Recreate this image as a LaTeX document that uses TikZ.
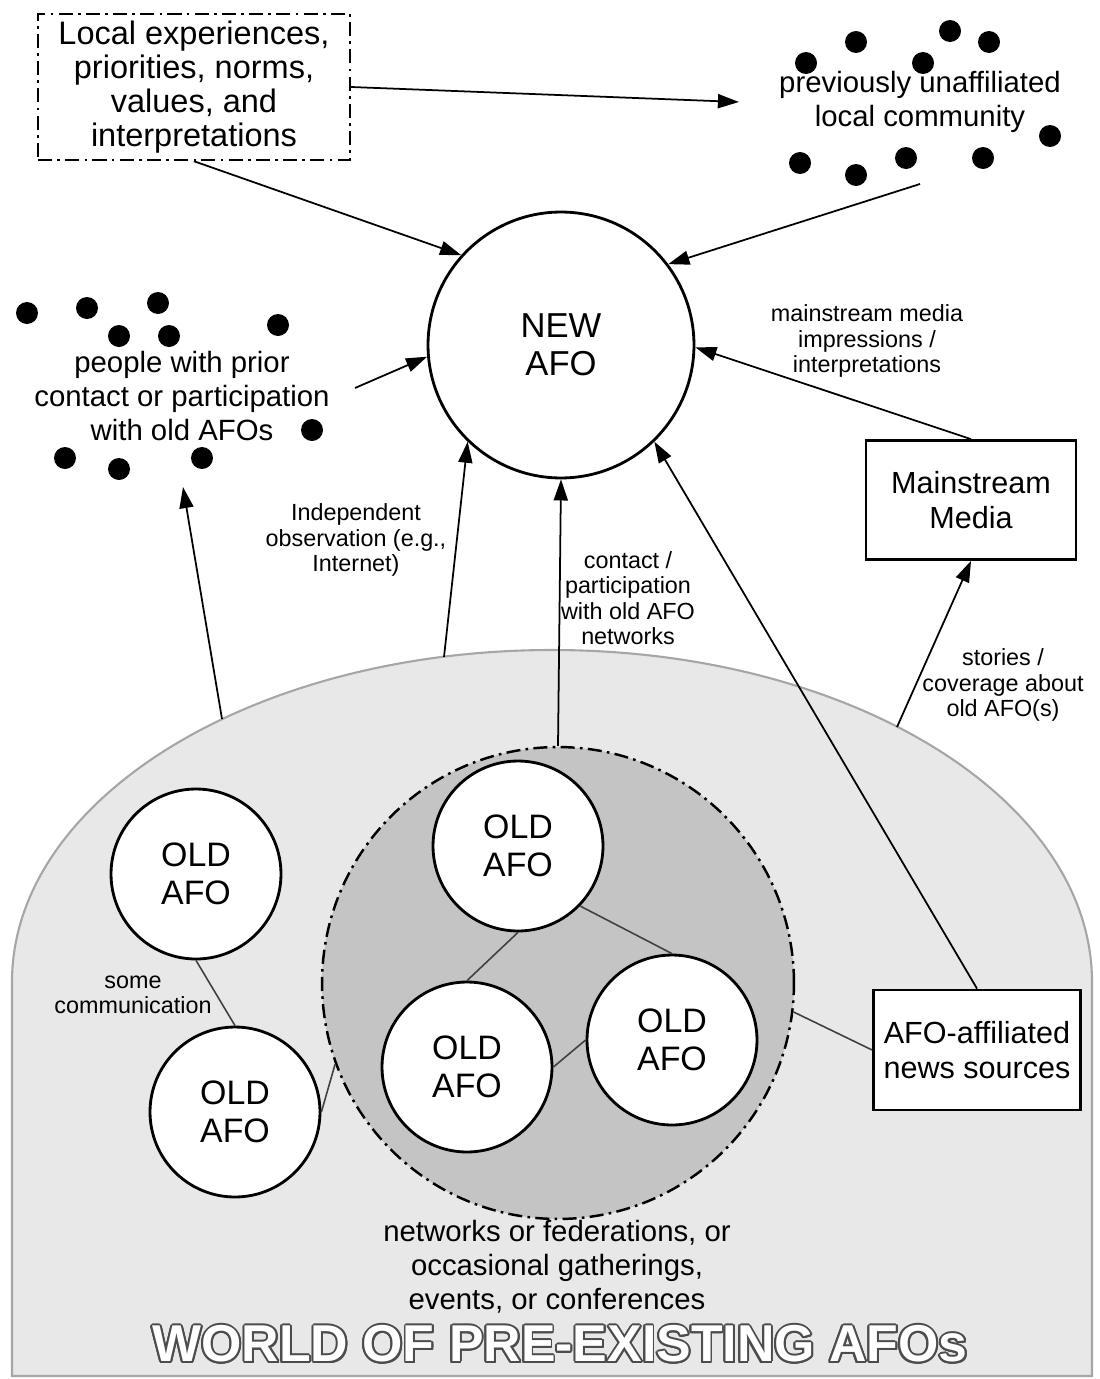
\documentclass[tikz,border=0pt]{standalone}
\usepackage{fontspec}
\setmainfont{Liberation Sans}
\usepackage{contour}
\usetikzlibrary{arrows.meta}
\contourlength{1.1pt}
\definecolor{worldgray}{HTML}{E8E8E8}
\definecolor{netgray}{HTML}{C4C4C4}
\definecolor{rimgray}{HTML}{A6A6A6}
\newcommand{\crowd}[1]{
    \foreach \p in {#1}
        \fill \p circle (11);
}
\tikzset{x=0.02cm, y=-0.02cm, >={Triangle[length=12pt,width=8pt]},
    every node/.append style={align=center, font=\fontsize{16.7}{19.3}\selectfont},
    afo/.style={circle, draw, line width=1.6pt, fill=white, minimum size=3.4cm, inner sep=0pt,
        font=\fontsize{19.3}{21.5}\selectfont},
    plainbox/.style={draw, line width=1.6pt, fill=white, font=\fontsize{17.4}{20.4}\selectfont},
    smalllbl/.style={font=\fontsize{13.3}{14.5}\selectfont},
    link/.style={line width=0.9pt, black!75}}

\begin{document}
\begin{tikzpicture}
                \useasboundingbox (0,0) rectangle (1099,1379);
                \filldraw[fill=worldgray, draw=rimgray, line width=1.2pt]
                    (12,1376) -- (12,982) arc[start angle=180, end angle=360, x radius=540, y radius=332]
                    -- (1092,1376) -- cycle;
                \coordinate (w1) at (222,719);
                \coordinate (w2) at (444,657);
                \coordinate (w3) at (897,727);
                \node[circle, draw, line width=1.4pt, dash pattern=on 8pt off 3pt on 1.5pt off 3pt,
                    fill=netgray, minimum size=9.44cm] (net) at (558,983) {};
                \node[afo] (a) at (196,874) {OLD\\AFO};
                \node[afo] (b) at (235,1112) {OLD\\AFO};
                \node[afo] (c) at (518,846) {OLD\\AFO};
                \node[afo] (d) at (467,1067) {OLD\\AFO};
                \node[afo] (e) at (672,1040) {OLD\\AFO};
                \node[plainbox, minimum width=4.14cm, minimum height=2.4cm] (affil) at (977,1050)
                    {AFO-affiliated\\news sources};
                \node[smalllbl] (somelbl) at (133,995) {some\\communication};
                \node (netlbl) at (557,1267) {networks or federations, or\\occasional gatherings,\\events, or conferences};
                \node[text=white, font=\fontsize{29.5}{31}\selectfont\bfseries] (world) at (560,1345)
                    {\contour{black!70}{WORLD OF PRE-EXISTING AFOs}};
                \draw[link] (a.south) -- (b.north);
                \draw[link] (b.east) -- (net.200);
                \draw[link] (c.south) -- (d.north);
                \draw[link] (c.316) -- (e.north);
                \draw[link] (d.east) -- (e.west);
                \draw[link] (net.353) -- (affil.west);

                \node[draw, line width=1.4pt, dash pattern=on 8pt off 3pt on 1.5pt off 3pt,
                    minimum width=6.24cm, minimum height=2.92cm, font=\fontsize{18.5}{19.5}\selectfont]
                    (local) at (194,87) {Local experiences,\\priorities, norms,\\values, and\\interpretations};
                \node (prev) at (920,102) {previously unaffiliated\\local community};
                \crowd{(856,42),(950,31),(989,42),(806,63),(923,63),(1050,136),(800,163),(856,175),(906,158),(983,158)}
                \coordinate (prevfoot) at (920,184);
                \node[circle, draw, line width=1.6pt, minimum size=5.32cm, font=\fontsize{19.7}{21.5}\selectfont]
                    (new) at (561,345) {NEW\\AFO};
                \node (people) at (182,396) {people with prior\\contact or participation\\with old AFOs};
                \crowd{(27,313),(87,308),(158,303),(119,336),(169,336),(278,325),(312,430),(65,458),(119,469),(202,458)}
                \coordinate (peoplefoot) at (183,487);
                \coordinate (peopleside) at (355,388);
                \node[plainbox, minimum width=4.2cm, minimum height=2.38cm] (media) at (971,500) {Mainstream\\Media};

                \node[smalllbl] (mmlbl) at (867,341) {mainstream media\\impressions /\\interpretations};
                \node[smalllbl] (indlbl) at (356,540) {Independent\\observation (e.g.,\\Internet)};
                \node[smalllbl] (conlbl) at (628,598) {contact /\\participation\\with old AFO\\networks};
                \node[smalllbl] (storlbl) at (1003,685) {stories /\\coverage about\\old AFO(s)};

                \draw[->, line width=1pt] (local.east) -- ([xshift=-0.68cm]prev.west);
                \draw[->, line width=1pt] (local.south) -- (new.138);
                \draw[->, line width=1pt] (prevfoot) -- (new.37);
                \draw[->, line width=1pt] (peopleside) -- (new.185);
                \draw[->, line width=1pt] (media.north) -- (new.359);
                \draw[->, line width=1pt] (w1) -- (peoplefoot);
                \draw[->, line width=1pt] (w2) -- (new.226);
                \draw[->, line width=1pt] (net.north) -- (new.south);
                \draw[->, line width=1pt] (affil.north) -- (new.314);
                \draw[->, line width=1pt] (w3) -- (media.south);
            \end{tikzpicture}
\end{document}
